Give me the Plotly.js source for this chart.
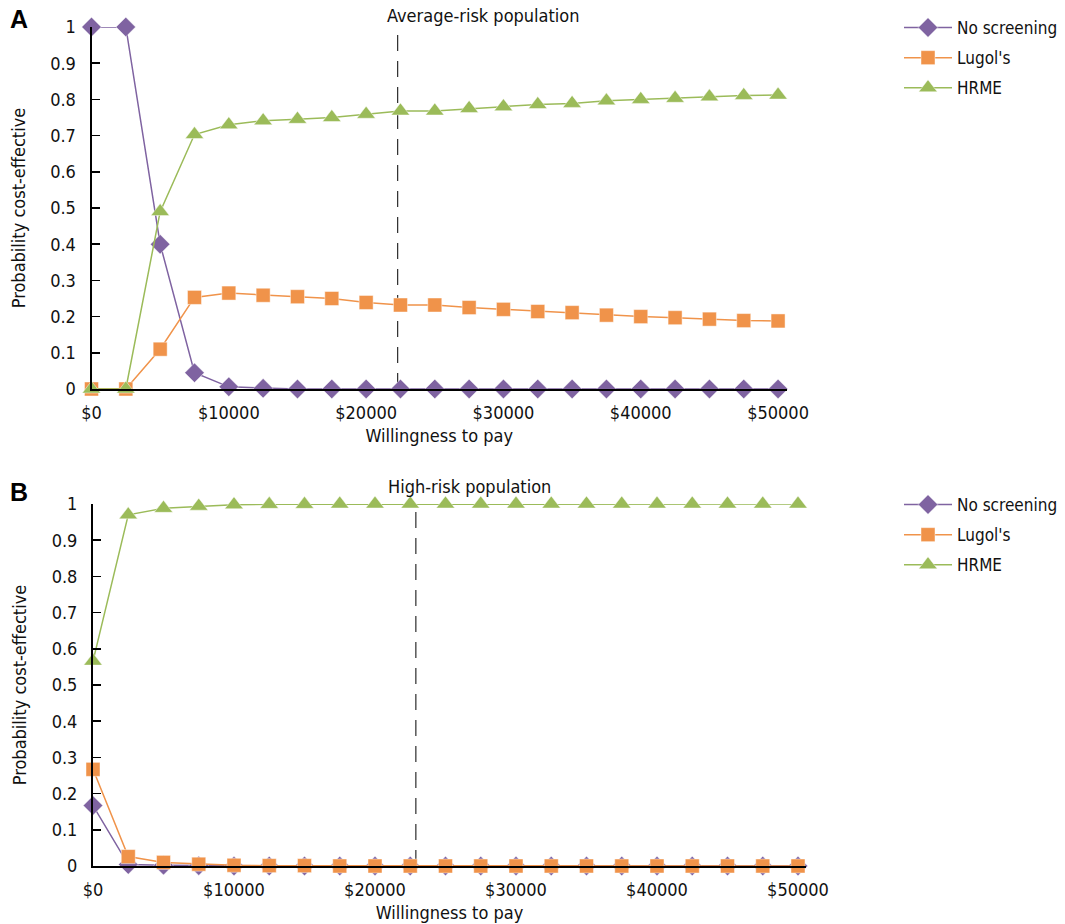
<!DOCTYPE html>
<html>
<head>
<meta charset="utf-8">
<script src="https://cdn.plot.ly/plotly-3.0.1.min.js"></script>
<style>html,body{margin:0;padding:0;background:#fff;}#chart{width:1065px;height:924px;}</style>
</head>
<body>
<div id="chart"></div>
<script>
// Willingness-to-pay grid (US$)
const wtp = [0, 2500, 5000, 7500, 10000, 12500, 15000, 17500, 20000, 22500, 25000,
             27500, 30000, 32500, 35000, 37500, 40000, 42500, 45000, 47500, 50000];

// Panel A: average-risk population
const noScreeningA = [1, 1, 0.40, 0.045, 0.006, 0.002, 0, 0, 0, 0, 0,
                      0, 0, 0, 0, 0, 0, 0, 0, 0, 0];
const lugolA = [0, 0, 0.11, 0.253, 0.265, 0.259, 0.255, 0.250, 0.239, 0.232, 0.232,
                0.225, 0.220, 0.214, 0.211, 0.204, 0.200, 0.197, 0.193, 0.189, 0.188];
const hrmeA = [0, 0, 0.49, 0.703, 0.730, 0.741, 0.745, 0.750, 0.759, 0.768, 0.768,
               0.775, 0.780, 0.786, 0.789, 0.796, 0.800, 0.803, 0.807, 0.811, 0.812];

// Panel B: high-risk population
const noScreeningB = [0.167, 0.004, 0.002, 0.001, 0, 0, 0, 0, 0, 0, 0,
                      0, 0, 0, 0, 0, 0, 0, 0, 0, 0];
const lugolB = [0.267, 0.026, 0.010, 0.005, 0.002, 0.001, 0.001, 0, 0, 0, 0,
                0, 0, 0, 0, 0, 0, 0, 0, 0, 0];
const hrmeB = [0.566, 0.970, 0.988, 0.994, 0.998, 0.999, 0.999, 1, 1, 1, 1,
               1, 1, 1, 1, 1, 1, 1, 1, 1, 1];

// Willingness-to-pay thresholds (dashed lines)
const thresholdA = 22300;
const thresholdB = 22900;

const seriesNames = ["No screening", "Lugol's", "HRME"];
const panelTitles = ["Average-risk population", "High-risk population"];
const panelLetters = ["A", "B"];
const xTitle = "Willingness to pay";
const yTitle = "Probability cost-effective";

const FONT = "DejaVu Sans Condensed, DejaVu Sans, sans-serif";
const FS = 18;
const colors = ["#7F63A1", "#F0934A", "#9BBB59"];
const symbols = ["diamond", "square", "triangle-up"];
const sizes = [15, 14, 16];

function mk(y, i, xa, ya, leg) {
  return {
    x: wtp, y: y, type: "scatter", mode: "lines+markers",
    name: seriesNames[i], xaxis: xa, yaxis: ya, legend: leg,
    legendgroup: leg + i, cliponaxis: false,
    line: {color: colors[i], width: 1.5},
    marker: {symbol: symbols[i], size: sizes[i], color: colors[i],
             line: {color: "rgba(255,255,255,0.45)", width: 1}}
  };
}

const data = [
  mk(noScreeningA, 0, "x", "y", "legend"),
  mk(lugolA, 1, "x", "y", "legend"),
  mk(hrmeA, 2, "x", "y", "legend"),
  mk(noScreeningB, 0, "x2", "y2", "legend2"),
  mk(lugolB, 1, "x2", "y2", "legend2"),
  mk(hrmeB, 2, "x2", "y2", "legend2")
];

const W = 1065, H = 924;
function xAxis(d0, d1, rmax, anchor) {
  return {
    domain: [d0 / W, d1 / W], range: [0, rmax], anchor: anchor,
    showline: true, linecolor: "#000", linewidth: 2, zeroline: false, showgrid: false,
    ticks: "", dtick: 10000, tick0: 0, tickprefix: "$", tickformat: "d",
    tickfont: {family: FONT, size: FS, color: "#111"}, ticklabelstandoff: 6,
    title: {text: xTitle, font: {family: FONT, size: FS, color: "#111"}, standoff: 8}
  };
}
function yAxis(top, bottom, anchor) {
  return {
    domain: [(H - bottom) / H, (H - top) / H], range: [0, 1], anchor: anchor,
    showline: true, linecolor: "#000", linewidth: 2, zeroline: false, showgrid: false,
    ticks: "inside", ticklen: 8, tickwidth: 1.5, tickcolor: "#000", dtick: 0.1, tick0: 0,
    tickfont: {family: FONT, size: FS, color: "#111"}, ticklabelstandoff: 10,
    title: {text: yTitle, font: {family: FONT, size: FS, color: "#111"}, standoff: 20}
  };
}

const legendCommon = {
  xanchor: "left", yanchor: "top", bgcolor: "rgba(0,0,0,0)",
  font: {family: FONT, size: 17, color: "#111"}, tracegroupgap: 5, itemwidth: 48
};

const layout = {
  width: W, height: H, margin: {l: 0, r: 0, t: 0, b: 0, autoexpand: false},
  paper_bgcolor: "#fff", plot_bgcolor: "#fff", showlegend: true,
  font: {family: FONT, size: FS, color: "#111"},
  xaxis: xAxis(91.5, 787, 50650, "y"),
  yaxis: yAxis(27, 389, "x"),
  xaxis2: xAxis(93, 806, 50567, "y2"),
  yaxis2: yAxis(504, 866, "x2"),
  legend: Object.assign({x: 899 / W, y: (H - 10) / H}, legendCommon),
  legend2: Object.assign({x: 899 / W, y: (H - 487) / H}, legendCommon),
  shapes: [
    {type: "line", xref: "x", yref: "y", x0: thresholdA, x1: thresholdA, y0: 0, y1: 1,
     line: {color: "#000", width: 1, dash: "16px,10px"}, layer: "below"},
    {type: "line", xref: "x2", yref: "y2", x0: thresholdB, x1: thresholdB, y0: 0, y1: 1,
     line: {color: "#000", width: 1, dash: "16px,10px"}, layer: "below"}
  ],
  annotations: [
    {text: panelTitles[0], xref: "paper", yref: "paper", x: 483 / W, y: (H - 15) / H,
     xanchor: "center", yanchor: "middle", showarrow: false,
     font: {family: FONT, size: FS, color: "#111"}},
    {text: panelTitles[1], xref: "paper", yref: "paper", x: 469 / W, y: (H - 486) / H,
     xanchor: "center", yanchor: "middle", showarrow: false,
     font: {family: FONT, size: FS, color: "#111"}},
    {text: "<b>" + panelLetters[0] + "</b>", xref: "paper", yref: "paper", x: 19 / W, y: (H - 19) / H,
     xanchor: "center", yanchor: "middle", showarrow: false,
     font: {family: "Liberation Sans, Arial, sans-serif", size: 25, color: "#000"}},
    {text: "<b>" + panelLetters[1] + "</b>", xref: "paper", yref: "paper", x: 19 / W, y: (H - 492) / H,
     xanchor: "center", yanchor: "middle", showarrow: false,
     font: {family: "Liberation Sans, Arial, sans-serif", size: 25, color: "#000"}}
  ]
};

Plotly.newPlot("chart", data, layout, {displayModeBar: false, staticPlot: true});
</script>
</body>
</html>
